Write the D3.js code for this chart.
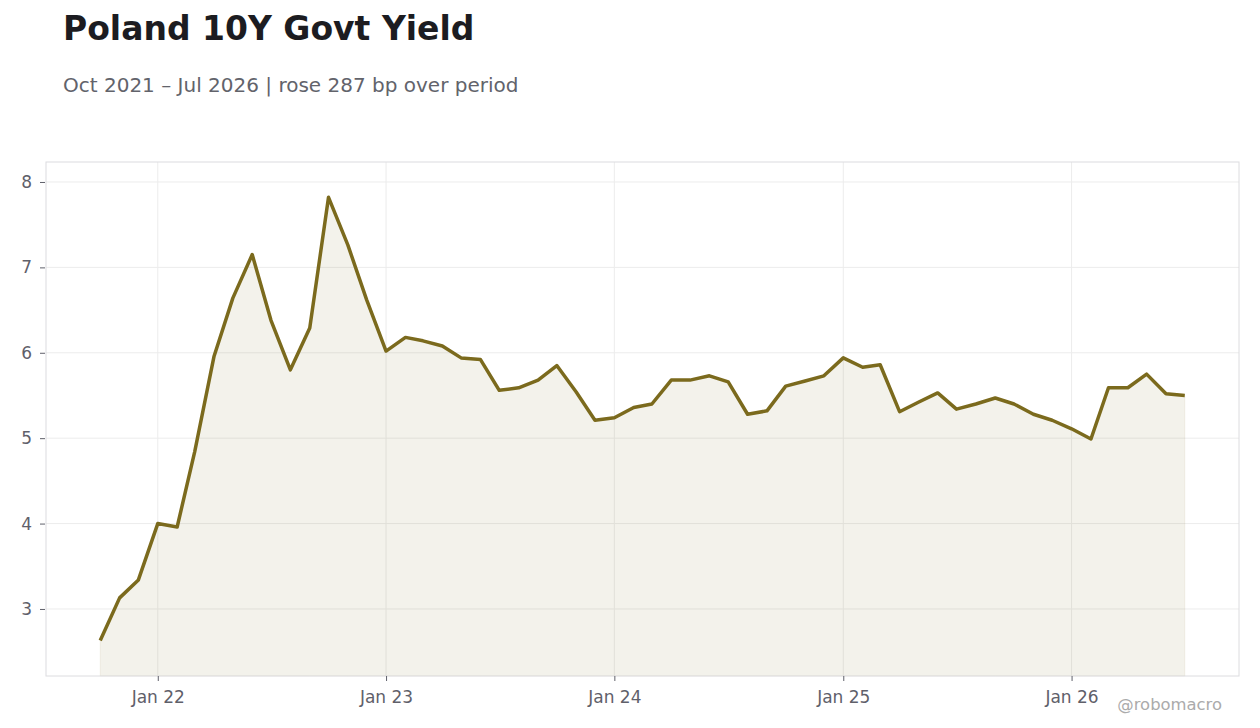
<!DOCTYPE html>
<html>
<head>
<meta charset="utf-8">
<script src="https://cdn.jsdelivr.net/npm/d3@7"></script>
<style>
  body { margin: 0; background: #fff; }
  svg { display: block; font-family: "DejaVu Sans", sans-serif; }
</style>
</head>
<body>
<div id="chart"></div>
<script>
// monthly closes, Oct 2021 .. Jul 2026
const startMonth = "2021-10";
const yields = [
  2.63, 3.13, 3.34, 4.00, 3.96, 4.84, 5.96, 6.64, 7.15, 6.38, 5.80, 6.29,
  7.82, 7.26, 6.62, 6.02, 6.18, 6.14, 6.08, 5.94, 5.92, 5.56, 5.59, 5.68,
  5.85, 5.54, 5.21, 5.24, 5.36, 5.40, 5.68, 5.68, 5.73, 5.66, 5.28, 5.32,
  5.61, 5.67, 5.73, 5.94, 5.83, 5.86, 5.31, 5.42, 5.53, 5.34, 5.40, 5.47,
  5.40, 5.28, 5.21, 5.11, 4.99, 5.59, 5.59, 5.75, 5.52, 5.50
];
const yTicks = [3, 4, 5, 6, 7, 8];
const xTicks = ["2022-01", "2023-01", "2024-01", "2025-01", "2026-01"];

const title = "Poland 10Y Govt Yield";
const subtitle = "Oct 2021 \u2013 Jul 2026 | rose 287 bp over period";

const parseMonth = d3.utcParse("%Y-%m");
const start = parseMonth(startMonth);
const data = yields.map((v, i) => ({ date: d3.utcMonth.offset(start, i), value: v }));

const width = 1260, height = 728;
const margin = { top: 162, right: 21, bottom: 52, left: 46 };
const innerW = width - margin.left - margin.right;
const innerH = height - margin.top - margin.bottom;

const svg = d3.select("#chart").append("svg")
  .attr("width", width).attr("height", height);

svg.append("text").attr("x", 63).attr("y", 40)
  .attr("font-size", 33).attr("font-weight", "bold").attr("fill", "#1c1c21")
  .text(title);
svg.append("text").attr("x", 63).attr("y", 92)
  .attr("font-size", 20).attr("fill", "#62636b")
  .text(subtitle);

// 5% padding each side of the date range
const [d0, d1] = d3.extent(data, d => d.date);
const pad = (d1 - d0) * 0.05;
const x = d3.scaleUtc()
  .domain([new Date(+d0 - pad), new Date(+d1 + pad)])
  .range([0, innerW]);
const y = d3.scaleLinear().domain([2.215, 8.234]).range([innerH, 0]);

const g = svg.append("g").attr("transform", `translate(${margin.left},${margin.top})`);

// grid
g.append("g").selectAll("line").data(yTicks).join("line")
  .attr("x1", 0).attr("x2", innerW)
  .attr("y1", d => y(d)).attr("y2", d => y(d))
  .attr("stroke", "#ececec").attr("stroke-width", 1);
g.append("g").selectAll("line").data(xTicks).join("line")
  .attr("x1", d => x(parseMonth(d))).attr("x2", d => x(parseMonth(d)))
  .attr("y1", 0).attr("y2", innerH)
  .attr("stroke", "#ececec").attr("stroke-width", 1);

const area = d3.area().x(d => x(d.date)).y0(innerH).y1(d => y(d.value));
const line = d3.line().x(d => x(d.date)).y(d => y(d.value));

g.append("path").datum(data)
  .attr("fill", "rgba(122, 106, 30, 0.09)")
  .attr("stroke", "rgba(122, 106, 30, 0.08)")
  .attr("d", area);
g.append("path").datum(data)
  .attr("fill", "none").attr("stroke", "#7b6a1d").attr("stroke-width", 3.5)
  .attr("stroke-linejoin", "round")
  .attr("d", line);

// frame
g.append("rect").attr("x", 0).attr("y", 0).attr("width", innerW).attr("height", innerH)
  .attr("fill", "none").attr("stroke", "#dcdcdf").attr("stroke-width", 1);

// axes
const yAxis = g.append("g")
  .call(d3.axisLeft(y).tickValues(yTicks).tickSize(5).tickPadding(8).tickFormat(d3.format("d")));
const xAxis = g.append("g").attr("transform", `translate(0,${innerH})`)
  .call(d3.axisBottom(x).tickValues(xTicks.map(parseMonth)).tickSize(5).tickPadding(10)
    .tickFormat(d3.utcFormat("%b %y")));
[yAxis, xAxis].forEach(a => {
  a.select(".domain").remove();
  a.selectAll(".tick line").attr("stroke", "#5f606a");
  a.selectAll(".tick text").attr("fill", "#5f606a").attr("font-size", 17)
    .attr("font-family", "DejaVu Sans, sans-serif");
});
yAxis.attr("transform", "translate(-1,0)");

svg.append("text").attr("x", 1222).attr("y", 710).attr("text-anchor", "end")
  .attr("font-size", 16.4).attr("fill", "#ababab")
  .text("@robomacro");
</script>
</body>
</html>
